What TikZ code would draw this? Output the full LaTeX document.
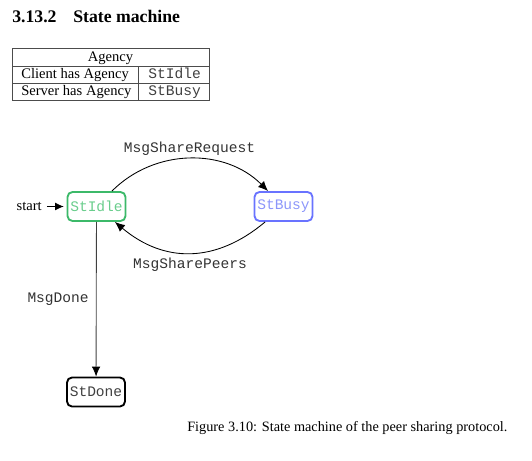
\documentclass[tikz,border=0pt]{standalone}
\usepackage{fontspec}
\setmainfont{Liberation Serif}
\setmonofont{Liberation Mono}
\usetikzlibrary{arrows.meta}
\definecolor{idleB}{RGB}{60,185,105}
\definecolor{idleT}{RGB}{105,205,140}
\definecolor{busyB}{RGB}{105,115,255}
\definecolor{busyT}{RGB}{140,150,250}
\begin{document}
\begin{tikzpicture}[x=0.7pt,y=0.7pt,font=\fontsize{10.2}{12}\selectfont,
  state/.style={draw,rounded corners=3.5pt,line width=1.3pt,minimum width=40.6pt,minimum height=20.3pt,inner sep=0pt,font=\fontsize{10.2}{12}\ttfamily},
  trans/.style={line width=0.6pt,-{Latex[length=7pt,width=6pt,color=black]}},
  lbl/.style={font=\fontsize{10.2}{12}\ttfamily,text=black!80,inner sep=0pt,anchor=base},
  txt/.style={inner sep=0pt,anchor=base west},
  mono/.style={txt,font=\fontsize{10.2}{12}\ttfamily,text=black!75},
  tline/.style={draw=black!70,line width=0.45pt}]
\useasboundingbox (0,0) rectangle (532,-460);
% heading
\node[txt,font=\fontsize{12.4}{14}\bfseries] (num) at (12,-22) {3.13.2};
\node[txt,font=\fontsize{12.4}{14}\bfseries] (title) at (73,-22) {State machine};
% table
\draw[tline] (12,-48) rectangle (209,-100);
\draw[tline] (12,-66) -- (209,-66);
\draw[tline] (12,-83) -- (209,-83);
\draw[tline] (138,-66) -- (138,-100);
\node[inner sep=0pt,anchor=base] (ag) at (110.5,-61.5) {Agency};
\node[txt] (c1) at (21,-78.3) {Client has Agency};
\node[mono] (s1) at (148,-78.3) {StIdle};
\node[txt] (c2) at (21,-95.6) {Server has Agency};
\node[mono] (s2) at (148,-95.6) {StBusy};
% states
\node[state,draw=idleB,text=idleT] (idle) at (96.5,-206.5) {StIdle};
\node[state,draw=busyB,text=busyT] (busy) at (283.5,-206.5) {StBusy};
\node[state,draw=black,text=black!75] (done) at (96,-392) {StDone};
% start
\node[inner sep=0pt,anchor=base east] (st) at (42,-210.5) {start};
\draw[line width=0.6pt,-{Latex[length=6pt,width=5.5pt]},shorten <=3.5pt,shorten >=2pt] (st) -- (idle);
% transitions
\draw[trans] (idle) to[out=45,in=135] (busy);
\draw[trans] (busy) to[out=-140,in=-40,looseness=1.1] (idle);
\draw[trans,draw=black!75] (idle) -- (done);
% labels
\node[lbl] (l1) at (189.5,-152) {MsgShareRequest};
\node[lbl] (l2) at (190,-268) {MsgSharePeers};
\node[lbl,anchor=base east] (l3) at (89,-302.7) {MsgDone};
% caption
\node[txt,font=\fontsize{10}{12}\selectfont] (cap) at (187,-431) {Figure 3.10: State machine of the peer sharing protocol.};
\end{tikzpicture}
\end{document}
